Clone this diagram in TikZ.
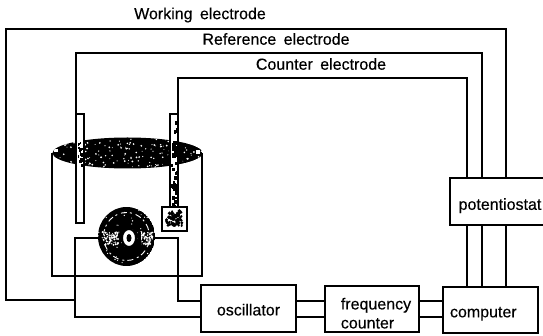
\documentclass[tikz,border=0pt]{standalone}
\usepackage{fontspec}
\setmainfont{Liberation Sans}[FakeBold=0.3]
\tikzset{
  wire/.style={line width=1.4pt,line join=miter},
  devicebox/.style={draw,line width=1.4pt,fill=white,rectangle,inner sep=0pt,font=\fontsize{16}{19}\selectfont},
  wirelabel/.style={inner sep=0pt,font=\fontsize{16}{19}\selectfont}
}
\begin{document}
\begin{tikzpicture}[x=1pt,y=-1pt]
\useasboundingbox (0,0) rectangle (543,336);
\pgfmathsetseed{4711}
\fill[white] (0,0) rectangle (543,336);
\node[wirelabel] (worklabel) at (200,15) {Working\hspace{3pt} electrode};
\node[wirelabel] (reflabel) at (276,39) {Reference\hspace{3pt} electrode};
\node[wirelabel] (counterlabel) at (321,64) {Counter\hspace{3pt} electrode};
\node[devicebox,minimum width=95pt,minimum height=47pt] (osc) at (248.5,308.5) {\rule{0pt}{14pt}oscillator};
\node[devicebox,minimum width=94pt,minimum height=46pt,align=left] (freq) at (372,309) {\rule{0pt}{20pt}\hspace*{8pt}frequency\\\hspace*{8pt}counter};
\node[devicebox,minimum width=95pt,minimum height=46pt,text width=81pt,align=left] (comp) at (490.5,310) {\rule{0pt}{18pt}computer};
\node[devicebox,minimum width=100pt,minimum height=47pt] (pot) at (500,201.5) {\rule{0pt}{20pt}potentiostat};
\coordinate (upwire) at (0,301);
\coordinate (lowwire) at (0,317);
\coordinate (worktop) at (506,29);
\coordinate (reftop) at (482,53);
\coordinate (countertop) at (467,78);
\coordinate (refrod) at (76,114);
\coordinate (counterrod) at (178,114);
\draw[wire] (osc.east |- upwire) -- (freq.west |- upwire);
\draw[wire] (osc.east |- lowwire) -- (freq.west |- lowwire);
\draw[wire] (freq.east |- upwire) -- (comp.west |- upwire);
\draw[wire] (freq.east |- lowwire) -- (comp.west |- lowwire);
\foreach \w in {worktop,reftop,countertop} \draw[wire] (comp.north -| \w) -- (pot.south -| \w);
\draw[wire] (pot.north -| worktop) -- (worktop) -- (6,29) -- (6,300) -- (75,300);
\draw[wire] (pot.north -| reftop) -- (reftop) -- (76,53) -- (refrod);
\draw[wire] (pot.north -| countertop) -- (countertop) -- (178,78) -- (counterrod);
\begin{scope}
\clip (127.5,153) ellipse (75 and 15.5);
\fill (127.5,153) ellipse (75 and 15.5);
\foreach \i in {1,...,170} {
  \pgfmathsetmacro\px{52+150*rnd}
  \pgfmathsetmacro\py{137+32*rnd}
  \fill[white] (\px,\py) circle (0.4+0.6*rnd);
}
\fill[white] (54,149) rectangle (58,152);
\fill[white] (196,150) rectangle (200,154);
\end{scope}
\draw[wire] (52,153) -- (52,276) -- (202,276) -- (202,153);
\draw[wire,fill=white] (76,114) rectangle (84,223);
\draw[wire,fill=white] (170,114) rectangle (178,207);
\foreach \i in {1,...,42} {
  \pgfmathsetmacro\py{115+91*rnd}
  \fill (171+5*rnd,\py) rectangle +(1.5+2*rnd,2+2*rnd);
}
\foreach \i in {1,...,16} {
  \pgfmathsetmacro\py{141+24*rnd}
  \fill (77+6*rnd,\py) rectangle +(1+1.5*rnd,1.5+2*rnd);
}
\draw[wire,fill=white] (162,207) rectangle (187,231);
\begin{scope}
\clip (163,208) rectangle (186,230);
\foreach \i in {1,...,60} {
  \pgfmathsetmacro\px{166+16*rnd}
  \pgfmathsetmacro\py{211+16*rnd}
  \fill (\px,\py) circle (1+1.2*rnd);
}
\end{scope}
\draw[wire] (99,238) -- (75,238) -- (75,317) -- (osc.west |- lowwire);
\draw[wire] (155,238) -- (178,238) -- (178,301) -- (osc.west |- upwire);
\begin{scope}
\clip (126.5,236.5) ellipse (28.5 and 29.5);
\fill (126.5,236.5) ellipse (28.5 and 29.5);
\draw[white,line width=0.9pt,dash pattern=on 6pt off 3pt on 2pt off 4pt] (126.5,236.5) ellipse (23 and 24);
\foreach \i in {1,...,45} {
  \pgfmathsetmacro\px{98+57*rnd}
  \pgfmathsetmacro\py{207+59*rnd}
  \fill[white] (\px,\py) circle (0.3+0.5*rnd);
}
\foreach \i in {1,...,70} {
  \pgfmathsetmacro\py{232+13*rnd}
  \fill[white] (102+16*rnd,\py) circle (0.5+0.7*rnd);
  \fill[white] (138+15*rnd,\py) circle (0.5+0.7*rnd);
}
\fill (138,232) rectangle (141,246);
\end{scope}
\draw[line width=2pt,fill=white] (129,238) ellipse (7 and 9);
\fill (129,238) ellipse (2.5 and 4);
\end{tikzpicture}
\end{document}
